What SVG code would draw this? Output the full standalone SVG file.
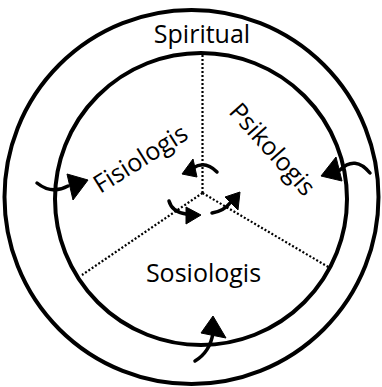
<svg xmlns="http://www.w3.org/2000/svg" width="382" height="387" viewBox="0 0 382 387">
  <style>
    .ring { fill: none; stroke: #000; stroke-width: 4; }
    .div { fill: none; stroke: #000; stroke-width: 2.2; stroke-dasharray: 2 2; }
    .curve { fill: none; stroke: #000; stroke-width: 3.5; stroke-linecap: round; }
    .head { fill: #000; stroke: #000; stroke-width: 1; stroke-linejoin: round; }
    .lbl { font-family: "Open Sans", "Noto Sans", sans-serif; font-size: 25px; fill: #000; text-anchor: middle; }
  </style>
  <rect width="382" height="387" fill="#ffffff"/>
  <g id="spiritual">
    <circle class="ring" cx="191.5" cy="197" r="187"/>
    <text class="lbl" x="202" y="43">Spiritual</text>
  </g>
  <g id="inner-circle">
    <circle class="ring" cx="201" cy="199" r="146"/>
  </g>
  <g id="dividers">
    <line class="div" x1="202.5" y1="193" x2="202.5" y2="55"/>
    <line class="div" x1="202.5" y1="193" x2="82" y2="275"/>
    <line class="div" x1="202.5" y1="193" x2="330" y2="268"/>
  </g>
  <g id="fisiologis">
    <text class="lbl" transform="translate(145,166) rotate(-32)">Fisiologis</text>
  </g>
  <g id="psikologis">
    <text class="lbl" transform="translate(266,155) rotate(48)">Psikologis</text>
  </g>
  <g id="sosiologis">
    <text class="lbl" x="203.5" y="282">Sosiologis</text>
  </g>
  <g id="connectors">
    <path class="curve" d="M37,183 Q52,195 68,186"/>
    <polygon class="head" points="67,174 88,180 73,200"/>
    <path class="curve" d="M370,173 Q355,155 340,170"/>
    <polygon class="head" points="321,176 336,157 342,181"/>
    <path class="curve" d="M195,361 Q210,352 213,333"/>
    <polygon class="head" points="213,316 201,333 226,338"/>
    <path class="curve" d="M217,172 Q205,160 193,168"/>
    <polygon class="head" points="182,174 193,159 197,177"/>
    <path class="curve" d="M169,201 Q172,212 186,214"/>
    <polygon class="head" points="186,207 201,215 186,224"/>
    <path class="curve" d="M212,213 Q224,211 230,203"/>
    <polygon class="head" points="225,197 240,192 238,210"/>
  </g>
</svg>
